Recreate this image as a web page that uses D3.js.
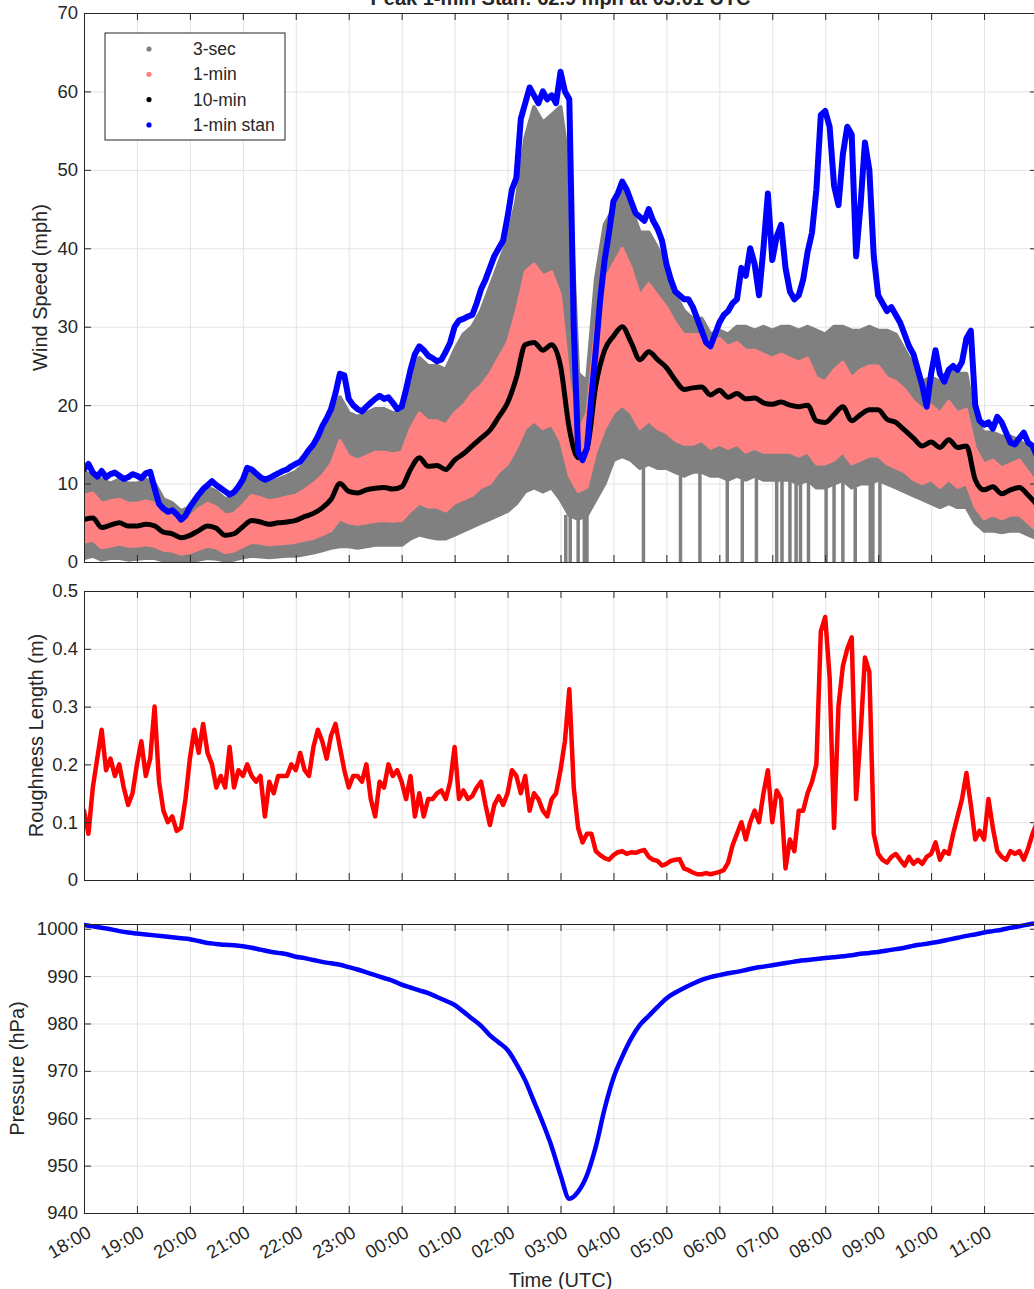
<!DOCTYPE html>
<html>
<head>
<meta charset="utf-8">
<script src="https://cdn.jsdelivr.net/npm/d3@7"></script>
<style>
  body { margin: 0; background: #fff; }
  text { font-family: 'Liberation Sans', Arial, sans-serif; fill: #262626; }
</style>
</head>
<body>
<div id="chart"></div>
<script>
// Hour tick labels on the time axis
let tickLabels = ['18:00','19:00','20:00','21:00','22:00','23:00','00:00','01:00','02:00',
  '03:00','04:00','05:00','06:00','07:00','08:00','09:00','10:00','11:00'];

// 1-min standardised wind (mph), every 5 min from 18:00
let stan1min = [
  11.8, 12.5, 11.4, 10.9, 11.6, 10.8, 11.2, 11.4, 11.0, 10.6, 10.8, 11.2,
  11.0, 10.7, 11.3, 11.5, 9.4, 7.4, 6.8, 6.4, 6.6, 6.1, 5.4, 5.9,
  7.0, 7.8, 8.6, 9.3, 9.8, 10.3, 9.8, 9.4, 9.0, 8.6, 8.9, 9.6,
  10.5, 12.0, 11.8, 11.3, 10.8, 10.5, 10.7, 11.0, 11.3, 11.6, 11.8, 12.2,
  12.5, 12.8, 13.5, 14.3, 15.0, 16.0, 17.3, 18.3, 19.5, 21.5, 24.0, 23.8,
  20.8, 20.0, 19.5, 19.2, 19.8, 20.3, 20.8, 21.2, 20.8, 21.0, 20.3, 19.5,
  19.8, 22.0, 24.5, 26.5, 27.5, 27.0, 26.3, 26.0, 25.6, 25.8, 26.8, 28.0,
  30.0, 30.8, 31.0, 31.3, 31.5, 33.0, 34.8, 36.0, 37.5, 39.0, 40.0, 41.0,
  44.0, 47.5, 49.0, 56.5, 58.5, 60.5, 59.5, 58.5, 60.0, 59.0, 59.5, 58.5,
  62.5, 60.0, 59.0, 30.0, 14.0, 13.0, 14.5, 21.0, 27.0, 33.5, 38.5, 42.0,
  46.0, 47.0, 48.5, 47.5, 46.0, 44.5, 44.0, 43.5, 45.0, 43.5, 42.5, 41.0,
  38.0, 36.0, 34.5, 34.0, 33.5, 33.5, 32.5, 31.0, 29.5, 28.0, 27.5, 29.0,
  30.5, 31.5, 32.0, 33.0, 33.5, 37.5, 36.5, 40.0, 38.0, 34.0, 40.0, 47.0,
  38.5, 41.5, 43.0, 37.5, 34.5, 33.5, 34.0, 36.0, 39.5, 42.0, 47.5, 57.0,
  57.5, 55.5, 48.0, 45.5, 52.0, 55.5, 54.5, 39.0, 45.5, 53.5, 50.0, 39.0,
  34.0, 33.0, 32.0, 32.5, 31.5, 30.5, 29.0, 27.5, 26.5, 24.5, 22.5, 19.8,
  24.0, 27.0, 24.0, 23.0, 24.5, 25.0, 24.5, 25.5, 28.5, 29.5, 20.0, 18.0,
  17.5, 17.8, 17.0, 18.5, 17.8, 16.5, 15.2, 15.0, 15.8, 16.5, 15.2, 14.8,
  13.5
];

// 10-min mean wind (mph), every 10 min from 18:00
let mean10min = [
  5.4, 5.6, 4.4, 4.7, 5.0, 4.6,
  4.6, 4.8, 4.6, 3.8, 3.6, 3.1,
  3.4, 4.0, 4.6, 4.3, 3.4, 3.6,
  4.5, 5.3, 5.1, 4.8, 5.0, 5.1,
  5.3, 5.8, 6.2, 6.9, 8.0, 10.0,
  9.0, 8.8, 9.2, 9.4, 9.5, 9.3,
  9.6, 11.8, 13.3, 12.2, 12.3, 11.8,
  13.0, 13.8, 14.8, 15.8, 16.8, 18.5,
  20.3, 23.5, 27.7, 28.0, 27.0, 27.7,
  25.0, 17.0, 13.3, 14.5, 22.5, 27.0,
  28.8, 30.0, 28.0, 25.8, 26.8, 25.8,
  24.8, 23.2, 22.0, 22.2, 22.3, 21.3,
  21.9, 21.0, 21.5, 20.8, 20.9, 20.3,
  20.1, 20.4, 20.0, 19.8, 20.0, 18.0,
  17.8, 18.8, 19.8, 18.0, 18.8, 19.4,
  19.4, 18.2, 17.8, 16.8, 15.8, 14.8,
  15.3, 14.6, 15.6, 14.6, 14.8, 10.5,
  9.2, 9.6, 8.7, 9.2, 9.5, 8.5,
  7.3
];

// 1-min wind spread (mph), low and high, every 10 min
let min1Lo = [
  2.5, 2.8, 1.8, 2.0, 2.3, 2.0,  2.0, 2.2, 2.0, 1.5, 1.4, 1.0,
  1.2, 1.6, 2.0, 1.8, 1.2, 1.4,  2.0, 2.5, 2.4, 2.2, 2.3, 2.4,
  2.5, 2.8, 3.0, 3.5, 4.0, 5.5,  5.0, 4.8, 5.0, 5.2, 5.3, 5.2,
  5.3, 6.5, 7.5, 7.0, 7.0, 6.5,  7.5, 8.0, 8.5, 9.5, 10.0, 11.5,
  12.5, 14.5, 17.0, 18.0, 17.0, 17.5,  15.5, 11.0, 9.0, 9.5, 14.0, 17.0,
  19.0, 20.0, 19.0, 17.0, 18.0, 17.0,  16.5, 15.5, 15.0, 15.0, 15.5, 14.5,
  15.0, 14.5, 15.0, 14.0, 14.5, 14.0,  14.0, 14.0, 14.0, 13.5, 14.0, 12.5,
  12.5, 13.0, 14.0, 12.5, 13.0, 13.5,  13.5, 12.5, 12.0, 11.5, 10.5, 10.0,
  10.5, 9.5, 10.5, 9.5, 10.0, 7.0,  5.5, 6.0, 5.5, 6.0, 6.0, 5.0,
  4.0
];
let min1Hi = [
  8.5, 8.8, 7.5, 7.8, 8.0, 7.5,  7.5, 7.8, 7.5, 6.5, 6.0, 5.5,
  5.8, 6.8, 7.5, 7.0, 6.0, 6.2,  7.3, 8.5, 8.2, 7.8, 8.0, 8.3,
  8.5, 9.2, 10.0, 11.0, 12.5, 15.5,  13.5, 13.0, 13.5, 14.0, 14.0, 13.8,
  14.0, 17.0, 19.0, 18.0, 18.0, 17.5,  19.0, 20.0, 21.5, 22.5, 24.0, 26.0,
  28.0, 32.0, 37.0, 38.0, 36.5, 37.0,  34.0, 23.0, 16.5, 19.0, 30.0, 36.0,
  38.0, 40.0, 37.5, 34.0, 35.5, 34.0,  32.5, 30.5, 29.0, 29.0, 29.0, 28.0,
  28.5, 27.5, 28.0, 27.0, 27.0, 26.5,  26.0, 26.5, 26.0, 25.5, 26.0, 23.5,
  23.0, 24.5, 25.5, 23.5, 24.5, 25.0,  25.0, 23.5, 23.0, 22.0, 20.5, 19.5,
  20.0, 19.0, 20.5, 19.0, 19.5, 14.5,  12.5, 13.0, 12.0, 12.5, 13.0, 11.5,
  10.0
];

// 3-sec gust spread (mph), low and high, every 10 min
let sec3Lo = [
  0.5, 0.8, 0.3, 0.5, 0.5, 0.3,  0.4, 0.5, 0.5, 0.2, 0.2, 0.0,
  0.2, 0.3, 0.5, 0.4, 0.2, 0.3,  0.6, 0.8, 0.7, 0.6, 0.7, 0.8,
  0.8, 1.0, 1.2, 1.5, 1.8, 2.0,  2.0, 1.8, 2.0, 2.2, 2.2, 2.2,
  2.2, 3.0, 3.5, 3.2, 3.0, 3.0,  3.5, 4.0, 4.5, 5.0, 5.5, 6.0,
  6.5, 7.5, 9.0, 9.5, 9.0, 9.5,  8.0, 6.0, 5.5, 6.0, 8.0, 10.0,
  13.0, 13.5, 13.0, 12.0, 12.5, 12.0,  12.0, 11.5, 11.0, 11.5, 11.5, 11.0,
  11.0, 10.5, 11.0, 10.5, 11.0, 10.5,  10.5, 10.5, 10.5, 10.0, 10.5, 9.5,
  9.5, 10.0, 10.5, 9.5, 10.0, 10.0,  10.5, 10.0, 9.5, 9.0, 8.5, 8.0,
  7.5, 7.0, 7.5, 7.0, 7.0, 5.0,  4.0, 4.0, 3.8, 4.0, 4.0, 3.5,
  3.0
];
let sec3Hi = [
  11.5, 11.0, 10.5, 10.0, 10.5, 10.0,  10.0, 10.5, 10.0, 8.0, 7.5, 6.5,
  7.0, 8.5, 9.5, 9.0, 8.0, 8.5,  10.0, 11.5, 10.5, 10.0, 10.5, 11.0,
  11.5, 12.5, 14.0, 16.0, 18.0, 21.0,  19.0, 18.5, 19.0, 19.5, 19.5, 19.0,
  19.0, 23.0, 26.0, 25.0, 25.0, 24.5,  27.0, 29.0, 30.0, 32.0, 35.0, 38.0,
  41.0, 46.0, 54.0, 58.0, 56.0, 57.0,  58.0, 50.0, 24.0, 23.0, 36.0, 43.0,
  45.0, 47.5, 45.0, 42.0, 42.0, 40.0,  37.0, 34.0, 32.0, 31.0, 31.0, 29.0,
  29.5, 29.0, 30.0, 30.0, 29.5, 30.0,  29.5, 30.0, 30.0, 29.5, 30.0, 29.5,
  29.0, 30.0, 30.0, 29.5, 29.5, 30.0,  29.5, 29.5, 29.0, 27.0, 25.0, 23.0,
  23.5, 23.0, 24.5, 24.0, 24.0, 18.0,  16.5, 16.5, 16.0, 16.0, 15.5, 14.5,
  13.5
];

// 3-sec gust dropouts (readings that fall to 0 mph)
let sec3Drops = ['03:06','03:11','03:20','03:27','03:30','04:34','05:16','05:38','06:09',
  '06:26','06:42','07:05','07:11','07:20','07:27','07:32','07:41','08:01','08:10',
  '08:20','08:34','08:51','08:54','09:02'];

// Roughness length (m), every 5 min from 18:00
let roughness = [
  0.12, 0.08, 0.16, 0.21, 0.26, 0.19, 0.21, 0.18, 0.20, 0.16, 0.13, 0.15,
  0.20, 0.24, 0.18, 0.21, 0.30, 0.17, 0.12, 0.10, 0.11, 0.085, 0.09, 0.14,
  0.21, 0.26, 0.22, 0.27, 0.22, 0.20, 0.16, 0.18, 0.16, 0.23, 0.16, 0.19,
  0.18, 0.20, 0.18, 0.17, 0.18, 0.11, 0.17, 0.15, 0.18, 0.18, 0.18, 0.20,
  0.19, 0.22, 0.19, 0.18, 0.23, 0.26, 0.24, 0.21, 0.25, 0.27, 0.23, 0.19,
  0.16, 0.18, 0.18, 0.17, 0.20, 0.14, 0.11, 0.17, 0.16, 0.20, 0.18, 0.19,
  0.17, 0.14, 0.18, 0.11, 0.15, 0.11, 0.14, 0.14, 0.15, 0.155, 0.14, 0.17,
  0.23, 0.14, 0.155, 0.14, 0.145, 0.16, 0.17, 0.13, 0.095, 0.13, 0.145, 0.13,
  0.15, 0.19, 0.18, 0.15, 0.18, 0.12, 0.15, 0.14, 0.12, 0.11, 0.14, 0.15,
  0.19, 0.24, 0.33, 0.16, 0.09, 0.065, 0.08, 0.08, 0.05, 0.043, 0.038, 0.035,
  0.043, 0.048, 0.05, 0.045, 0.048, 0.047, 0.05, 0.052, 0.04, 0.035, 0.033, 0.025,
  0.028, 0.033, 0.035, 0.036, 0.02, 0.017, 0.013, 0.01, 0.01, 0.012, 0.01, 0.012,
  0.014, 0.017, 0.03, 0.06, 0.08, 0.10, 0.07, 0.10, 0.12, 0.10, 0.15, 0.19,
  0.10, 0.155, 0.14, 0.02, 0.07, 0.05, 0.12, 0.12, 0.15, 0.17, 0.20, 0.43,
  0.455, 0.35, 0.09, 0.30, 0.37, 0.40, 0.42, 0.14, 0.25, 0.385, 0.36, 0.08,
  0.045, 0.035, 0.03, 0.04, 0.045, 0.035, 0.025, 0.04, 0.028, 0.035, 0.028, 0.04,
  0.045, 0.065, 0.035, 0.05, 0.045, 0.08, 0.11, 0.14, 0.185, 0.13, 0.07, 0.085,
  0.07, 0.14, 0.09, 0.05, 0.04, 0.035, 0.05, 0.045, 0.05, 0.035, 0.055, 0.08,
  0.10
];

// Station pressure (hPa), every 10 min from 18:00
let pressure = [
  1000.8, 1000.5, 1000.2, 999.9, 999.5, 999.2,
  999.0, 998.8, 998.6, 998.4, 998.2, 998.0,
  997.8, 997.4, 997.0, 996.8, 996.6, 996.5,
  996.3, 996.0, 995.6, 995.2, 994.9, 994.6,
  994.1, 993.8, 993.4, 993.0, 992.7, 992.4,
  991.9, 991.4, 990.8, 990.2, 989.6, 989.0,
  988.2, 987.6, 987.0, 986.4, 985.6, 984.8,
  983.9, 982.5, 981.0, 979.5, 977.5, 976.0,
  974.4, 971.5, 968.0, 963.5, 959.0, 954.0,
  948.0, 943.0, 944.5, 948.0, 954.0, 962.0,
  968.5, 973.0, 976.8, 979.7, 981.6, 983.5,
  985.3, 986.5, 987.5, 988.4, 989.2, 989.8,
  990.2, 990.6, 990.9, 991.3, 991.7, 992.0,
  992.3, 992.6, 992.9, 993.2, 993.4, 993.6,
  993.8, 994.0, 994.2, 994.4, 994.7, 994.9,
  995.1, 995.4, 995.7, 996.0, 996.4, 996.7,
  997.0, 997.3, 997.7, 998.1, 998.5, 998.8,
  999.2, 999.5, 999.8, 1000.2, 1000.5, 1000.9,
  1001.2
];

let legendNames = ['3-sec', '1-min', '10-min', '1-min stan'];
let legendColors = ['#808080', '#ff8080', '#000000', '#0000ff'];

// Figure geometry
let svgWidth = 1034;
let svgHeight = 1289;
let left = 84, right = 1037;
let axisColor = '#262626';
let gridColor = '#e3e3e3';

let svg = d3.select('#chart')
  .append('svg')
  .attr('width', svgWidth)
  .attr('height', svgHeight);

// Time helpers: 18:00 on day one through 12:00 on day two
let t0 = new Date(2000, 0, 1, 18, 0);
function parseT(s) {
  let [h, m] = s.split(':').map(Number);
  return new Date(2000, 0, h < 18 ? 2 : 1, h, m);
}
function series(values, step) {
  return values.map((v, i) => ({ t: new Date(+t0 + i * step * 60000), v: v }));
}

let xScale = d3.scaleTime()
  .domain([t0, new Date(2000, 0, 2, 12, 0)])
  .range([left, right]);
let tickDates = tickLabels.map(parseT);

// Draws one panel frame: grid, box, inward ticks on all four sides
function makePanel(top, bottom, yDomain, yTicks, yFormat, ylabel, labelX) {
  let y = d3.scaleLinear().domain(yDomain).range([bottom, top]);
  let g = svg.append('g');

  // grid
  g.append('g').attr('transform', `translate(0,${bottom})`)
    .call(d3.axisBottom(xScale).tickValues(tickDates).tickSize(-(bottom - top)).tickFormat(''))
    .call(a => a.select('.domain').remove())
    .selectAll('line').attr('stroke', gridColor);
  g.append('g').attr('transform', `translate(${left},0)`)
    .call(d3.axisLeft(y).tickValues(yTicks).tickSize(-(right - left)).tickFormat(''))
    .call(a => a.select('.domain').remove())
    .selectAll('line').attr('stroke', gridColor);

  let plot = g.append('g').attr('clip-path', `url(#clip${top})`);
  svg.append('clipPath').attr('id', `clip${top}`)
    .append('rect').attr('x', left).attr('y', top - 3)
    .attr('width', right - left).attr('height', bottom - top + 3);

  let axes = g.append('g').attr('class', 'axes');
  // left axis with labels
  axes.append('g').attr('transform', `translate(${left},0)`)
    .call(d3.axisLeft(y).tickValues(yTicks).tickSize(-7).tickPadding(6).tickFormat(yFormat))
    .call(a => a.selectAll('text').attr('font-size', '18.5px').attr('fill', axisColor))
    .call(a => a.selectAll('line,path').attr('stroke', axisColor));
  // right axis ticks
  axes.append('g').attr('transform', `translate(${right},0)`)
    .call(d3.axisRight(y).tickValues(yTicks).tickSize(-7).tickFormat(''))
    .call(a => a.selectAll('line,path').attr('stroke', axisColor));
  // top axis ticks
  axes.append('g').attr('transform', `translate(0,${top})`)
    .call(d3.axisTop(xScale).tickValues(tickDates).tickSize(-7).tickFormat(''))
    .call(a => a.selectAll('line,path').attr('stroke', axisColor));

  // y label
  svg.append('text')
    .attr('transform', `translate(${labelX},${(top + bottom) / 2}) rotate(-90)`)
    .attr('text-anchor', 'middle')
    .attr('font-size', '20px')
    .text(ylabel);

  return { y: y, plot: plot, axes: axes, bottom: bottom };
}

function bottomAxis(p, withLabels) {
  let ax = p.axes.append('g').attr('transform', `translate(0,${p.bottom})`)
    .call(d3.axisBottom(xScale).tickValues(tickDates).tickSize(-7)
      .tickFormat((d, i) => withLabels ? tickLabels[i] : ''))
    .call(a => a.selectAll('line,path').attr('stroke', axisColor));
  if (withLabels) {
    ax.selectAll('text')
      .attr('font-size', '18.5px')
      .attr('fill', axisColor)
      .attr('text-anchor', 'end')
      .attr('y', 0).attr('dy', null)
      .attr('transform', 'translate(8,23) rotate(-30)');
  }
}

// ---- Panel 1: wind speeds ----
let p1 = makePanel(13, 562, [0, 70], d3.range(0, 71, 10), d3.format('d'), 'Wind Speed (mph)', 47);
let y1 = p1.y;

let gustData = sec3Lo.map((v, i) => ({ t: new Date(+t0 + i * 600000), lo: v, hi: sec3Hi[i] }));
p1.plot.append('path')
  .datum(gustData)
  .attr('d', d3.area().x(d => xScale(d.t)).y0(d => y1(d.lo)).y1(d => y1(d.hi)))
  .attr('fill', '#808080')
  .attr('stroke', '#808080')
  .attr('stroke-width', 4)
  .attr('stroke-linejoin', 'round');

// dropouts to zero
let dropDates = sec3Drops.map(parseT);
let loAt = d => {
  let i = Math.min(Math.round((d - t0) / 600000), sec3Lo.length - 1);
  return sec3Lo[i];
};
p1.plot.selectAll('.drop')
  .data(dropDates)
  .enter()
  .append('line')
  .attr('x1', d => xScale(d)).attr('x2', d => xScale(d))
  .attr('y1', d => y1(loAt(d))).attr('y2', y1(0))
  .attr('stroke', '#808080')
  .attr('stroke-width', 3.5);

let minData = min1Lo.map((v, i) => ({ t: new Date(+t0 + i * 600000), lo: v, hi: min1Hi[i] }));
p1.plot.append('path')
  .datum(minData)
  .attr('d', d3.area().x(d => xScale(d.t)).y0(d => y1(d.lo)).y1(d => y1(d.hi)))
  .attr('fill', '#ff8080')
  .attr('stroke', '#ff8080')
  .attr('stroke-width', 3)
  .attr('stroke-linejoin', 'round');

let lineGen = yy => d3.line().x(d => xScale(d.t)).y(d => yy(d.v));

p1.plot.append('path')
  .datum(series(mean10min, 10))
  .attr('d', lineGen(y1).curve(d3.curveMonotoneX))
  .attr('fill', 'none')
  .attr('stroke', '#000')
  .attr('stroke-width', 5)
  .attr('stroke-linejoin', 'round')
  .attr('stroke-linecap', 'round');

p1.plot.append('path')
  .datum(series(stan1min, 5))
  .attr('d', lineGen(y1))
  .attr('fill', 'none')
  .attr('stroke', '#0000ff')
  .attr('stroke-width', 6)
  .attr('stroke-linejoin', 'round')
  .attr('stroke-linecap', 'round');

bottomAxis(p1, false);

// legend
let legend = svg.append('g');
legend.append('rect')
  .attr('x', 105).attr('y', 33).attr('width', 180).attr('height', 107)
  .attr('fill', '#fff').attr('stroke', axisColor).attr('stroke-width', 1);
legend.selectAll('circle')
  .data(legendNames)
  .enter()
  .append('circle')
  .attr('cx', 149)
  .attr('cy', (d, i) => 49 + i * 25.3)
  .attr('r', 2.6)
  .attr('fill', (d, i) => legendColors[i]);
legend.selectAll('text')
  .data(legendNames)
  .enter()
  .append('text')
  .attr('x', 193)
  .attr('y', (d, i) => 49 + i * 25.3)
  .attr('dy', '0.35em')
  .attr('font-size', '17.5px')
  .attr('fill', '#000')
  .text(d => d);

// title (mostly off the top of the page)
svg.append('text')
  .attr('x', (left + right) / 2)
  .attr('y', 5)
  .attr('text-anchor', 'middle')
  .attr('font-size', '20px')
  .attr('font-weight', 'bold')
  .attr('fill', '#000')
  .text('Peak 1-min Stan: 62.9 mph at 03:01 UTC');

// ---- Panel 2: roughness length ----
let p2 = makePanel(591, 880, [0, 0.5], d3.range(0, 0.51, 0.1), d => d === 0 ? '0' : d3.format('.1f')(d), 'Roughness Length (m)', 43);
p2.plot.append('path')
  .datum(series(roughness, 5))
  .attr('d', lineGen(p2.y))
  .attr('fill', 'none')
  .attr('stroke', '#ff0000')
  .attr('stroke-width', 4.5)
  .attr('stroke-linejoin', 'round')
  .attr('stroke-linecap', 'round');
bottomAxis(p2, false);

// ---- Panel 3: pressure ----
let p3 = makePanel(924, 1213, [940, 1001], d3.range(940, 1001, 10), d3.format('d'), 'Pressure (hPa)', 24);
p3.plot.append('path')
  .datum(series(pressure, 10))
  .attr('d', lineGen(p3.y).curve(d3.curveMonotoneX))
  .attr('fill', 'none')
  .attr('stroke', '#0000ff')
  .attr('stroke-width', 4.5)
  .attr('stroke-linejoin', 'round')
  .attr('stroke-linecap', 'round');
bottomAxis(p3, true);

svg.append('text')
  .attr('x', (left + right) / 2)
  .attr('y', 1287)
  .attr('text-anchor', 'middle')
  .attr('font-size', '20px')
  .text('Time (UTC)');
</script>
</body>
</html>
